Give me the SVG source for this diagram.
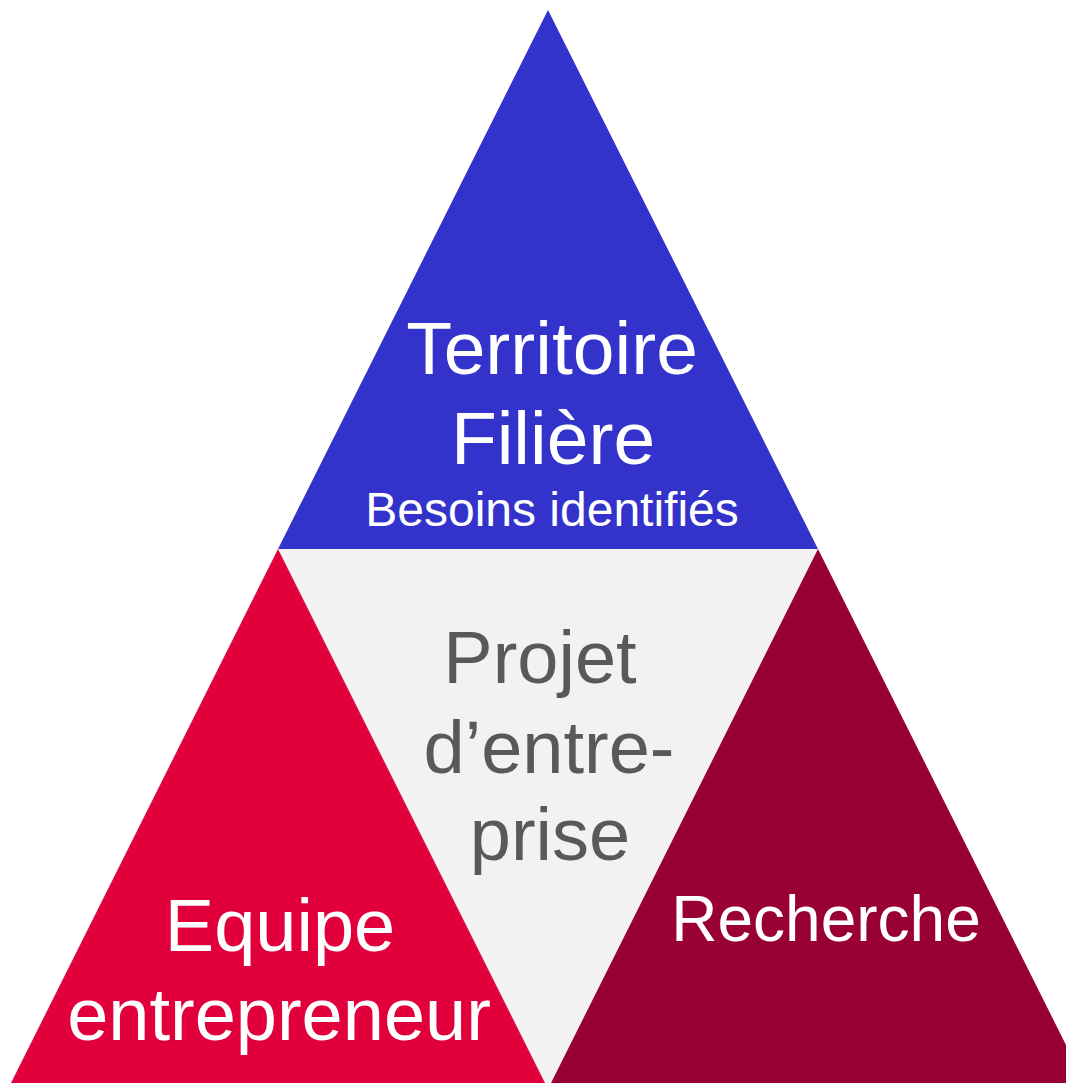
<svg xmlns="http://www.w3.org/2000/svg" width="1066" height="1083" viewBox="0 0 1066 1083">
  <style>
    .lbl { font-family: "Liberation Sans", Arial, sans-serif; text-anchor: middle; }
    .w { fill: #ffffff; }
    .g { fill: #595959; }
  </style>
  <rect width="1066" height="1083" fill="#ffffff"/>
  <g id="center">
    <polygon points="278,549 818,549 548,1089" fill="#F2F2F2"/>
    <text class="lbl g" x="540" y="683" font-size="74">Projet</text>
    <text class="lbl g" x="549" y="773" font-size="74">d’entre-</text>
    <text class="lbl g" x="550" y="860" font-size="74">prise</text>
  </g>
  <g id="top">
    <polygon points="548,10 818,549 278,549" fill="#3333CC"/>
    <text class="lbl w" x="552" y="374" font-size="75">Territoire</text>
    <text class="lbl w" x="553" y="464" font-size="75">Filière</text>
    <text class="lbl w" x="552" y="526" font-size="48">Besoins identifiés</text>
  </g>
  <g id="left">
    <polygon points="278,549 545,1083 11,1083" fill="#E2003C"/>
    <text class="lbl w" x="280" y="951" font-size="74">Equipe</text>
    <text class="lbl w" x="279" y="1040" font-size="74">entrepreneur</text>
  </g>
  <g id="right">
    <polygon points="818,549 1085,1083 551,1083" fill="#990033"/>
    <text class="lbl w" x="826" y="941" font-size="64">Recherche</text>
  </g>
  <g id="connectors"/>
</svg>
